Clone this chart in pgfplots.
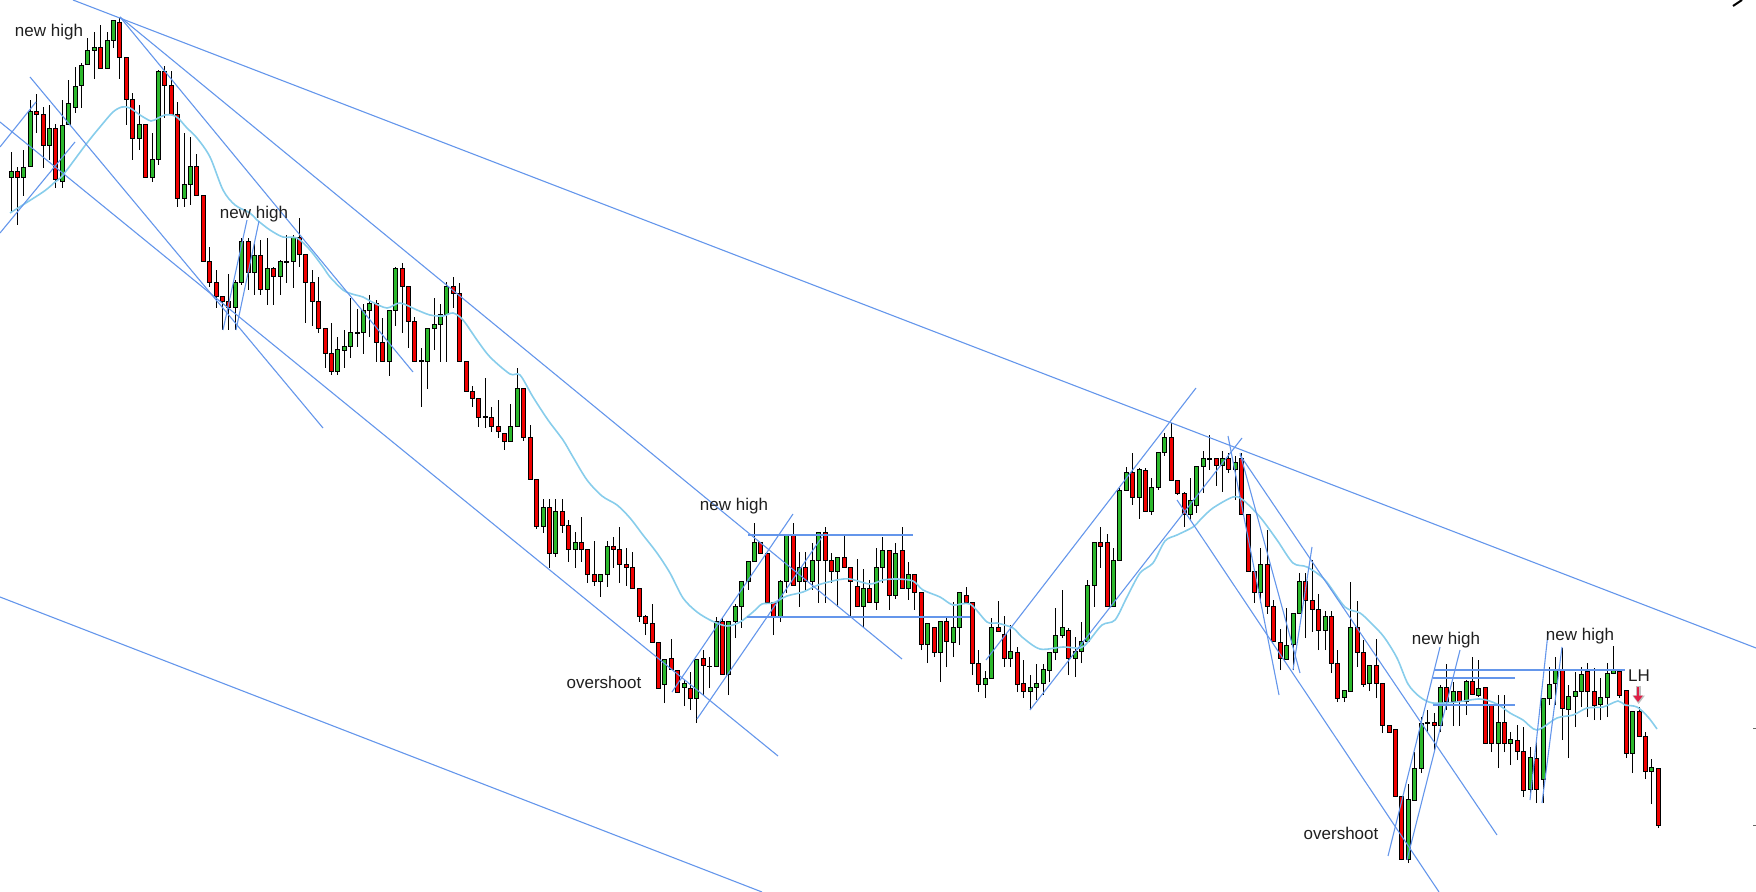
\documentclass[border=0pt]{standalone}
\usepackage{pgfplots}
\pgfplotsset{compat=1.18}
\usepackage{pgfplotstable}
\usepackage{fontspec}
\setmainfont{Liberation Sans}
\usetikzlibrary{arrows.meta}

\definecolor{bull}{RGB}{44,184,44}
\definecolor{bear}{RGB}{240,0,0}
\definecolor{tline}{RGB}{100,150,235}
\definecolor{ma}{RGB}{135,205,235}
\definecolor{lhred}{RGB}{222,30,70}

% candles, prices in picture pixels (y grows downwards): open high low close
\pgfplotstableread{
o h l c
178 152 213 172
172 167 225 178
178 150 196 168
167 100 167 112
112 94 133 115
115 107 168 146
146 105 160 129
129 124 188 180
182 100 188 126
125 80 125 104
108 67 113 87
86 63 108 66
65 38 65 51
51 32 79 48
48 25 69 69
69 32 69 41
41 21 48 21
23 18 79 58
58 58 125 100
100 93 160 139
139 105 150 125
125 125 178 178
178 133 182 160
160 70 165 72
72 66 118 86
86 71 115 115
115 102 207 199
199 133 207 185
185 137 205 167
167 154 196 196
196 196 262 262
262 247 287 283
283 270 308 297
297 297 330 302
302 274 330 308
308 280 330 283
283 238 285 242
242 238 290 273
273 242 295 256
256 240 295 290
290 238 305 269
269 267 305 277
277 260 295 262
262 235 283 262
262 235 288 238
238 218 267 255
255 255 323 283
283 270 326 302
302 277 333 329
329 329 368 354
354 323 375 372
372 337 375 350
351 330 368 347
347 298 358 333
333 309 347 333
333 304 354 311
311 295 337 304
304 300 362 343
343 318 362 362
362 311 376 311
311 267 326 269
269 263 333 287
287 287 348 322
322 317 362 362
361 348 407 361
362 329 389 329
329 298 350 325
325 304 362 315
315 282 362 287
287 277 308 294
294 283 362 362
362 362 392 392
392 386 407 399
399 399 427 418
417 378 428 417
418 407 432 427
427 400 438 432
434 434 450 442
442 404 442 427
427 368 427 389
389 389 441 438
438 425 480 480
480 480 529 527
527 499 533 508
508 499 568 554
554 499 557 512
512 499 533 526
526 520 562 550
550 532 568 543
543 517 562 550
550 550 583 575
575 541 586 582
582 575 597 575
575 541 587 547
547 537 568 550
550 527 583 565
565 548 586 568
568 552 589 589
589 589 622 617
617 615 635 624
624 604 642 642
642 642 688 688
684 659 703 659
659 639 670 670
670 670 692 692
688 680 706 684
688 672 710 698
698 659 723 659
659 650 695 666
666 657 688 666
666 617 667 622
622 618 674 674
674 622 695 622
622 604 638 607
607 582 628 582
582 562 590 562
562 523 562 543
543 543 554 554
554 554 603 603
603 603 635 617
617 580 622 582
582 536 593 536
536 523 586 586
582 552 607 568
568 552 590 582
582 543 590 561
561 533 603 533
533 527 603 561
561 553 583 572
572 558 607 558
558 534 568 568
568 568 617 582
587 559 607 607
607 569 627 589
589 580 603 603
603 548 610 568
568 537 583 551
551 551 610 596
596 543 599 554
551 527 589 589
589 562 600 575
575 575 610 593
593 593 650 645
645 624 663 624
628 628 657 652
652 622 682 622
622 617 667 642
642 602 657 628
628 593 645 593
596 587 603 603
603 603 675 663
663 650 692 684
684 671 698 678
678 618 678 628
628 601 632 632
635 616 667 659
659 625 667 652
652 647 692 684
684 660 698 692
692 675 710 688
688 664 700 684
684 664 695 670
670 652 682 652
652 608 660 635
635 590 638 628
631 628 675 659
659 637 677 652
652 622 663 642
642 580 642 586
586 543 607 543
543 527 568 547
543 534 607 607
607 548 607 561
561 488 561 491
491 467 491 473
473 453 505 498
498 468 519 470
471 468 512 512
512 478 515 488
488 453 490 453
453 433 456 438
438 423 481 481
481 481 495 494
494 492 527 515
515 478 520 501
506 467 513 467
467 451 493 459
459 435 470 459
459 459 486 466
466 451 492 459
459 453 473 470
470 456 500 463
459 453 515 515
515 515 572 572
572 572 603 593
593 548 603 565
565 530 614 607
607 600 642 641
643 629 670 659
659 608 659 645
645 614 670 614
614 573 614 582
582 573 638 601
601 560 632 610
610 594 650 631
631 611 650 617
617 611 673 663
663 650 702 698
698 691 702 691
691 582 691 628
628 601 667 652
652 640 687 684
684 666 691 666
666 639 698 684
684 684 733 726
726 726 733 733
730 730 797 797
797 797 860 860
860 784 863 800
800 752 800 768
768 717 773 723
723 710 732 723
723 713 752 726
726 685 732 688
688 664 710 702
702 682 726 692
692 692 726 702
702 680 715 682
682 657 695 695
695 660 697 688
688 688 744 744
705 705 752 744
744 695 768 723
723 695 752 744
744 732 765 740
740 725 760 751
751 727 797 790
790 747 797 758
758 738 803 789
779 698 803 698
698 667 705 684
684 657 705 671
671 648 740 709
709 685 758 696
696 672 727 691
691 667 707 674
671 663 717 691
691 668 720 705
705 678 720 698
698 663 717 674
674 646 674 671
671 671 698 695
691 691 758 754
754 712 773 712
712 707 737 737
737 732 779 772
772 759 804 768
768 768 828 825
}\candles

\pgfplotsset{
  trend/.style={draw=tline, line width=0.55pt, mark=none, forget plot},
}
\tikzset{
  note/.style={font=\fontsize{8.5pt}{10pt}\selectfont, text=black!88, anchor=base, inner sep=0pt},
}

\begin{document}
\begin{tikzpicture}
\begin{axis}[
  scale only axis, width=878pt, height=446pt,
  xmin=0, xmax=1756, ymin=0, ymax=892, y dir=reverse,
  hide axis, clip=true,
]
% wicks
\addplot[draw=none, mark=none, forget plot,
  error bars/.cd, y dir=minus, y explicit, error mark=none,
  error bar style={draw=black, line width=0.5pt}]
  table[x expr=11+6.41*\coordindex, y=l, y error expr=\thisrow{l}-\thisrow{h}] {\candles};
% body outlines
\addplot[draw=none, mark=none, forget plot,
  error bars/.cd, y dir=both, y explicit, error mark=none,
  error bar style={draw=black, line width=2.5pt}]
  table[x expr=11+6.41*\coordindex, y expr=(\thisrow{o}+\thisrow{c})/2,
        y error expr=abs(\thisrow{o}-\thisrow{c})/2+0.5] {\candles};
% up candles
\addplot[draw=none, mark=none, forget plot,
  restrict expr to domain={\thisrow{o}-\thisrow{c}}{0.5:2000},
  error bars/.cd, y dir=both, y explicit, error mark=none,
  error bar style={draw=bull, line width=1.5pt}]
  table[x expr=11+6.41*\coordindex, y expr=(\thisrow{o}+\thisrow{c})/2,
        y error expr={max(abs(\thisrow{o}-\thisrow{c})/2-0.5,0)}] {\candles};
% down candles
\addplot[draw=none, mark=none, forget plot,
  restrict expr to domain={\thisrow{o}-\thisrow{c}}{-2000:0.5},
  error bars/.cd, y dir=both, y explicit, error mark=none,
  error bar style={draw=bear, line width=1.5pt}]
  table[x expr=11+6.41*\coordindex, y expr=(\thisrow{o}+\thisrow{c})/2,
        y error expr={max(abs(\thisrow{o}-\thisrow{c})/2-0.5,0)}] {\candles};

% moving average
\addplot[ma, line width=0.8pt, smooth, mark=none] coordinates {
(10,213) (43,192) (55,182) (63,175) (87,143) (100,127) (113,112) (122,107) (130,108)
(140,115) (151,121) (158,118) (165,115) (172,115) (178,118) (187,128) (197,138) (210,157)
(223,190) (235,205) (250,213) (257,220) (270,230) (283,237) (297,238) (310,250) (323,267)
(330,277) (343,290) (352,294) (363,297) (372,302) (387,308) (400,303) (417,310) (430,315)
(443,316) (453,313) (463,320) (477,340) (490,357) (510,374) (520,375) (533,397) (548,420)
(563,440) (573,457) (587,480) (602,496) (617,505) (630,518) (643,535) (657,553) (670,573)
(683,598) (697,612) (712,621) (727,626) (740,622) (753,612) (762,604) (773,603) (787,596)
(803,592) (818,585) (837,580) (850,579) (870,584) (883,580) (897,579) (913,581) (923,590)
(940,597) (953,605) (970,604) (987,622) (997,623) (1013,628) (1022,637) (1040,649)
(1063,647) (1080,648) (1088,642) (1102,625) (1115,620) (1127,597) (1140,573) (1153,563)
(1165,541) (1177,535) (1193,527) (1202,518) (1213,508) (1233,497) (1243,500) (1260,517)
(1277,540) (1293,563) (1307,567) (1325,580) (1345,607) (1360,613) (1372,624) (1384,637)
(1397,658) (1408,684) (1420,697) (1433,703) (1457,702) (1480,699) (1497,704) (1510,713)
(1523,720) (1537,730) (1557,718) (1573,715) (1587,708) (1603,707) (1618,701) (1625,705)
(1637,707) (1648,717) (1657,729)
};

% trend lines
\addplot[trend] coordinates {(73,0) (1756,648)};
\addplot[trend] coordinates {(120,17) (902,659)};
\addplot[trend] coordinates {(120,17) (413,372)};
\addplot[trend] coordinates {(0,122) (778,756)};
\addplot[trend] coordinates {(30,77) (323,428)};
\addplot[trend] coordinates {(0,147) (36,102)};
\addplot[trend] coordinates {(0,233) (75,142)};
\addplot[trend] coordinates {(0,597) (762,892)};
\addplot[trend] coordinates {(223,330) (247,220)};
\addplot[trend] coordinates {(236,330) (259,221)};
\addplot[trend] coordinates {(672,692) (793,514)};
\addplot[trend] coordinates {(697,719) (822,537)};
\addplot[trend] coordinates {(748,535) (913,535)};
\addplot[trend] coordinates {(747,617) (970,617)};
\addplot[trend] coordinates {(986,660) (1196,388)};
\addplot[trend] coordinates {(1030,710) (1242,438)};
\addplot[trend] coordinates {(1228,436) (1279,695)};
\addplot[trend] coordinates {(1240,453) (1300,673)};
\addplot[trend] coordinates {(1240,455) (1497,835)};
\addplot[trend] coordinates {(1177,500) (1439,892)};
\addplot[trend] coordinates {(1293,670) (1312,547)};
\addplot[trend] coordinates {(1388,856) (1440,647)};
\addplot[trend] coordinates {(1407,860) (1460,650)};
\addplot[trend] coordinates {(1530,800) (1548,633)};
\addplot[trend] coordinates {(1542,803) (1562,647)};
\addplot[trend] coordinates {(1434,670) (1625,670)};
\addplot[trend] coordinates {(1433,678) (1515,678)};
\addplot[trend] coordinates {(1433,705) (1515,705)};

% lower-high arrow with its soft shadow
\addplot[black!25, line width=2.2pt, mark=none, forget plot, -{Triangle[width=6pt,length=4.2pt]}]
  coordinates {(1638.6,686) (1638.6,704)};
\addplot[lhred, line width=1.3pt, mark=none, forget plot, -{Triangle[width=4.6pt,length=3.2pt]}]
  coordinates {(1638,687) (1638,702)};

% cut-off marks at the picture's edges
\addplot[black, line width=1pt, mark=none, forget plot] coordinates {(1733,6) (1742,0)};
\addplot[black!60, line width=0.5pt, mark=none, forget plot] coordinates {(1753,728) (1756,728)};
\addplot[black!60, line width=0.5pt, mark=none, forget plot] coordinates {(1753,825) (1756,825)};

\node[note] at (axis cs:49,37) {new high};
\node[note] at (axis cs:254,219) {new high};
\node[note] at (axis cs:734,511) {new high};
\node[note] at (axis cs:604,688) {overshoot};
\node[note] at (axis cs:1446,645) {new high};
\node[note] at (axis cs:1341,839) {overshoot};
\node[note] at (axis cs:1580,640) {new high};
\node[note] at (axis cs:1639,681) {LH};
\end{axis}
\pgfresetboundingbox
\path (0,0) rectangle (878pt,446pt);
\end{tikzpicture}
\end{document}
